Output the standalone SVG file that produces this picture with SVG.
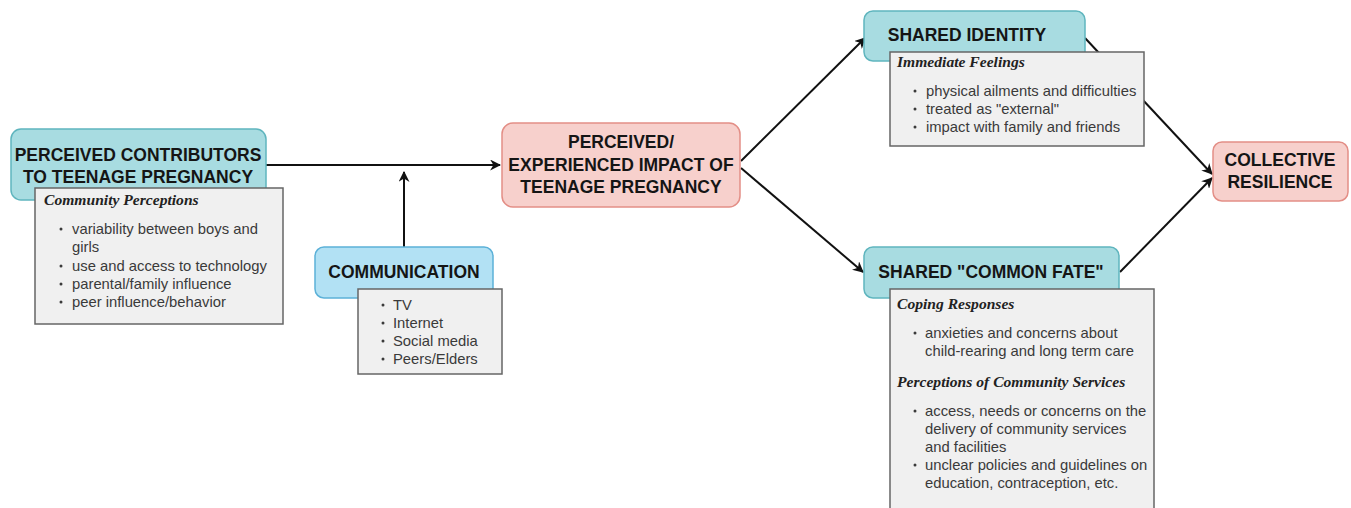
<svg xmlns="http://www.w3.org/2000/svg" width="1351" height="508" viewBox="0 0 1351 508">
<style>
.teal{fill:#a8dce1;stroke:#5fb5be;stroke-width:1.5}
.blue{fill:#b2e1f4;stroke:#5cb1d8;stroke-width:1.5}
.pink{fill:#f7d0cc;stroke:#e38e86;stroke-width:1.5}
.gray{fill:#f0f0f0;stroke:#666;stroke-width:1.5}
.h{font-family:"Liberation Sans",Arial,sans-serif;font-weight:bold;font-size:17.5px;fill:#151515;text-anchor:middle}
.s{font-family:"Liberation Serif","Times New Roman",serif;font-weight:bold;font-style:italic;font-size:15.6px;fill:#222}
.b{font-family:"Liberation Sans",Arial,sans-serif;font-size:14.8px;fill:#3a3a3a}
.d{fill:#3a3a3a}
.c{stroke:#111;stroke-width:2;fill:none}
</style>
<defs>
<marker id="ah" viewBox="0 0 10 10" refX="9" refY="5" markerWidth="11" markerHeight="11" orient="auto" markerUnits="userSpaceOnUse">
<path d="M0,0 L10,5 L0,10 L3,5 Z" fill="#111"/>
</marker>
</defs>
<rect width="1351" height="508" fill="#fff"/>
<g id="connectors">
<line class="c" x1="266" y1="165" x2="500" y2="165" marker-end="url(#ah)"/>
<line class="c" x1="404" y1="247" x2="404" y2="172" marker-end="url(#ah)"/>
<line class="c" x1="741" y1="161" x2="865" y2="38" marker-end="url(#ah)"/>
<line class="c" x1="741" y1="168" x2="863" y2="272" marker-end="url(#ah)"/>
<line class="c" x1="1085" y1="38" x2="1212" y2="174" marker-end="url(#ah)"/>
<line class="c" x1="1120" y1="272" x2="1212" y2="178" marker-end="url(#ah)"/>
</g>
<g id="contributors">
<rect class="teal" x="11" y="129" width="255" height="71" rx="10"/>
<text class="h" x="138" y="161">PERCEIVED CONTRIBUTORS</text>
<text class="h" x="138" y="183">TO TEENAGE PREGNANCY</text>
<rect class="gray" x="35" y="188" width="248" height="136"/>
<text class="s" x="44" y="205">Community Perceptions</text>
<circle class="d" cx="61" cy="229" r="1.5"/>
<text class="b" x="72" y="234">variability between boys and</text>
<text class="b" x="72" y="252">girls</text>
<circle class="d" cx="61" cy="266" r="1.5"/>
<text class="b" x="72" y="271">use and access to technology</text>
<circle class="d" cx="61" cy="284" r="1.5"/>
<text class="b" x="72" y="289">parental/family influence</text>
<circle class="d" cx="61" cy="302" r="1.5"/>
<text class="b" x="72" y="307">peer influence/behavior</text>
</g>
<g id="communication">
<rect class="blue" x="315" y="247" width="178" height="51" rx="9"/>
<text class="h" x="404" y="278">COMMUNICATION</text>
<rect class="gray" x="358" y="289" width="144" height="85"/>
<circle class="d" cx="383" cy="305" r="1.5"/>
<text class="b" x="393" y="310">TV</text>
<circle class="d" cx="383" cy="323" r="1.5"/>
<text class="b" x="393" y="328">Internet</text>
<circle class="d" cx="383" cy="341" r="1.5"/>
<text class="b" x="393" y="346">Social media</text>
<circle class="d" cx="383" cy="359" r="1.5"/>
<text class="b" x="393" y="364">Peers/Elders</text>
</g>
<g id="impact">
<rect class="pink" x="502" y="123" width="238" height="84" rx="11"/>
<text class="h" x="621" y="148">PERCEIVED/</text>
<text class="h" x="621" y="171">EXPERIENCED IMPACT OF</text>
<text class="h" x="621" y="193">TEENAGE PREGNANCY</text>
</g>
<g id="shared-identity">
<rect class="teal" x="864" y="11" width="221" height="50" rx="9"/>
<text class="h" x="967" y="41">SHARED IDENTITY</text>
<rect class="gray" x="890" y="52" width="254" height="94"/>
<text class="s" x="897" y="67">Immediate Feelings</text>
<circle class="d" cx="915" cy="91" r="1.5"/>
<text class="b" x="926" y="96">physical ailments and difficulties</text>
<circle class="d" cx="915" cy="109" r="1.5"/>
<text class="b" x="926" y="114">treated as "external"</text>
<circle class="d" cx="915" cy="127" r="1.5"/>
<text class="b" x="926" y="132">impact with family and friends</text>
</g>
<g id="common-fate">
<rect class="teal" x="864" y="247" width="255" height="51" rx="9"/>
<text class="h" x="991" y="278">SHARED "COMMON FATE"</text>
<rect class="gray" x="890" y="289" width="264" height="230"/>
<text class="s" x="897" y="309">Coping Responses</text>
<circle class="d" cx="915" cy="333" r="1.5"/>
<text class="b" x="925" y="338">anxieties and concerns about</text>
<text class="b" x="925" y="356">child-rearing and long term care</text>
<text class="s" x="897" y="387">Perceptions of Community Services</text>
<circle class="d" cx="915" cy="411" r="1.5"/>
<text class="b" x="925" y="416">access, needs or concerns on the</text>
<text class="b" x="925" y="434">delivery of community services</text>
<text class="b" x="925" y="452">and facilities</text>
<circle class="d" cx="915" cy="465" r="1.5"/>
<text class="b" x="925" y="470">unclear policies and guidelines on</text>
<text class="b" x="925" y="488">education, contraception, etc.</text>
</g>
<g id="collective">
<rect class="pink" x="1213" y="142" width="135" height="59" rx="9"/>
<text class="h" x="1280" y="166">COLLECTIVE</text>
<text class="h" x="1280" y="188">RESILIENCE</text>
</g>
</svg>
